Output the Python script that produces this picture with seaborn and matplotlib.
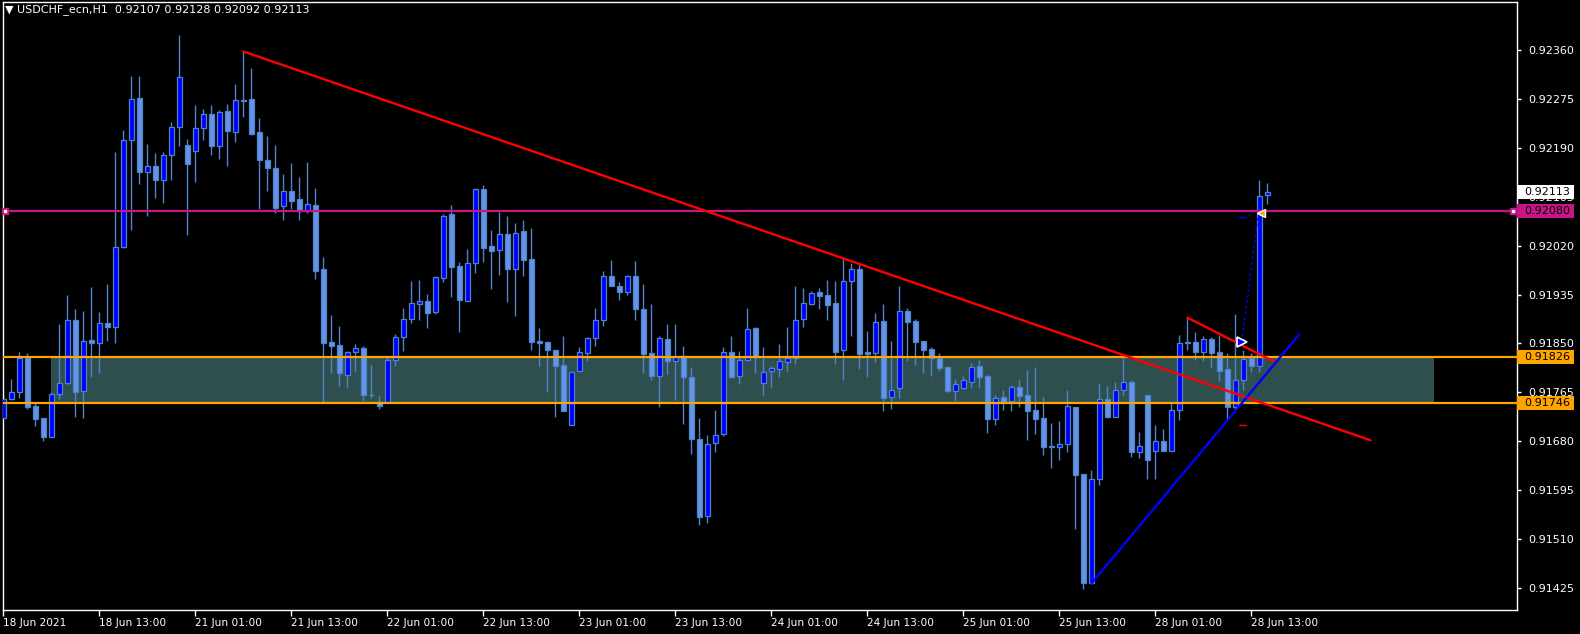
import numpy as np
import pandas as pd
import seaborn as sns
import matplotlib
matplotlib.use("Agg")
import matplotlib.pyplot as plt
import matplotlib.transforms as mtransforms
from matplotlib.patches import Rectangle

# USDCHF_ecn H1 bars, 18 Jun 01:00 .. 28 Jun 15:00
open_ = [0.91721, 0.91753, 0.91765, 0.91824, 0.91741, 0.91720, 0.91688, 0.91763, 0.91782, 0.91890,
         0.91767, 0.91856, 0.91850, 0.91885, 0.91878, 0.92018, 0.92204, 0.92276, 0.92147, 0.92158,
         0.92133, 0.92178, 0.92225, 0.92195, 0.92185, 0.92224, 0.92248, 0.92193, 0.92254, 0.92217,
         0.92273, 0.92274, 0.92217, 0.92169, 0.92154, 0.92088, 0.92114, 0.92100, 0.92080, 0.92090,
         0.91979, 0.91853, 0.91847, 0.91796, 0.91836, 0.91843, 0.91760, 0.91748, 0.91748, 0.91821,
         0.91862, 0.91893, 0.91919, 0.91923, 0.91905, 0.91963, 0.92075, 0.91985, 0.91924, 0.91989,
         0.92118, 0.92020, 0.92012, 0.92040, 0.91980, 0.92045, 0.91997, 0.91854, 0.91853, 0.91839,
         0.91813, 0.91708, 0.91802, 0.91834, 0.91859, 0.91890, 0.91968, 0.91950, 0.91939, 0.91967,
         0.91909, 0.91833, 0.91794, 0.91857, 0.91819, 0.91828, 0.91792, 0.91684, 0.91550, 0.91677,
         0.91692, 0.91835, 0.91794, 0.91822, 0.91877, 0.91781, 0.91802, 0.91805, 0.91817, 0.91824,
         0.91892, 0.91918, 0.91939, 0.91934, 0.91920, 0.91838, 0.91958, 0.91980, 0.91836, 0.91834,
         0.91889, 0.91757, 0.91772, 0.91907, 0.91889, 0.91854, 0.91840, 0.91824, 0.91809, 0.91768,
         0.91773, 0.91784, 0.91811, 0.91794, 0.91719, 0.91757, 0.91750, 0.91774, 0.91760, 0.91735,
         0.91721, 0.91671, 0.91670, 0.91675, 0.91740, 0.91623, 0.91435, 0.91614, 0.91753, 0.91723,
         0.91770, 0.91783, 0.91662, 0.91760, 0.91664, 0.91681, 0.91664, 0.91734, 0.91852, 0.91852,
         0.91836, 0.91858, 0.91835, 0.91805, 0.91740, 0.91786, 0.91824, 0.91811, 0.92107]
high = [0.91763, 0.91788, 0.91835, 0.91833, 0.91748, 0.91720, 0.91766, 0.91884, 0.91935, 0.91909,
        0.91906, 0.91948, 0.91904, 0.91953, 0.92182, 0.92221, 0.92314, 0.92314, 0.92196, 0.92180,
        0.92182, 0.92234, 0.92386, 0.92205, 0.92264, 0.92257, 0.92264, 0.92255, 0.92266, 0.92300,
        0.92357, 0.92329, 0.92242, 0.92210, 0.92195, 0.92144, 0.92163, 0.92139, 0.92165, 0.92120,
        0.92000, 0.91899, 0.91880, 0.91837, 0.91849, 0.91845, 0.91813, 0.91759, 0.91827, 0.91866,
        0.91912, 0.91958, 0.91960, 0.91936, 0.91967, 0.92074, 0.92090, 0.91992, 0.92014, 0.92120,
        0.92125, 0.92047, 0.92079, 0.92071, 0.92060, 0.92065, 0.92050, 0.91877, 0.91854, 0.91839,
        0.91863, 0.91802, 0.91844, 0.91861, 0.91912, 0.91976, 0.91995, 0.91957, 0.91969, 0.91993,
        0.91953, 0.91919, 0.91863, 0.91884, 0.91884, 0.91846, 0.91809, 0.91721, 0.91691, 0.91734,
        0.91844, 0.91863, 0.91837, 0.91912, 0.91879, 0.91844, 0.91811, 0.91849, 0.91879, 0.91950,
        0.91946, 0.91941, 0.91946, 0.91960, 0.91959, 0.91998, 0.91990, 0.91990, 0.91872, 0.91903,
        0.91919, 0.91854, 0.91950, 0.91911, 0.91893, 0.91854, 0.91844, 0.91834, 0.91811, 0.91788,
        0.91794, 0.91816, 0.91821, 0.91795, 0.91761, 0.91769, 0.91778, 0.91787, 0.91804, 0.91809,
        0.91757, 0.91712, 0.91715, 0.91769, 0.91740, 0.91623, 0.91631, 0.91779, 0.91776, 0.91783,
        0.91824, 0.91787, 0.91696, 0.91760, 0.91708, 0.91701, 0.91747, 0.91864, 0.91895, 0.91870,
        0.91863, 0.91862, 0.91864, 0.91833, 0.91902, 0.91838, 0.91833, 0.92133, 0.92128]
low = [0.91720, 0.91752, 0.91755, 0.91736, 0.91706, 0.91680, 0.91688, 0.91754, 0.91779, 0.91723,
       0.91721, 0.91791, 0.91798, 0.91855, 0.91850, 0.92016, 0.92047, 0.92127, 0.92072, 0.92103,
       0.92094, 0.92133, 0.92193, 0.92039, 0.92131, 0.92203, 0.92177, 0.92170, 0.92158, 0.92200,
       0.92244, 0.92212, 0.92083, 0.92115, 0.92077, 0.92064, 0.92083, 0.92064, 0.92077, 0.91962,
       0.91746, 0.91799, 0.91777, 0.91775, 0.91803, 0.91751, 0.91755, 0.91736, 0.91746, 0.91811,
       0.91837, 0.91886, 0.91891, 0.91877, 0.91902, 0.91957, 0.91930, 0.91870, 0.91924, 0.91972,
       0.91991, 0.91945, 0.91969, 0.91922, 0.91898, 0.91968, 0.91839, 0.91811, 0.91765, 0.91723,
       0.91732, 0.91708, 0.91802, 0.91820, 0.91846, 0.91881, 0.91949, 0.91926, 0.91935, 0.91891,
       0.91798, 0.91787, 0.91739, 0.91797, 0.91752, 0.91711, 0.91659, 0.91535, 0.91538, 0.91662,
       0.91690, 0.91790, 0.91780, 0.91820, 0.91799, 0.91761, 0.91775, 0.91791, 0.91802, 0.91815,
       0.91879, 0.91916, 0.91909, 0.91890, 0.91815, 0.91787, 0.91863, 0.91806, 0.91791, 0.91818,
       0.91733, 0.91737, 0.91756, 0.91820, 0.91812, 0.91798, 0.91794, 0.91803, 0.91766, 0.91751,
       0.91771, 0.91775, 0.91775, 0.91695, 0.91709, 0.91735, 0.91733, 0.91740, 0.91683, 0.91693,
       0.91657, 0.91633, 0.91648, 0.91662, 0.91528, 0.91423, 0.91432, 0.91605, 0.91721, 0.91723,
       0.91760, 0.91653, 0.91652, 0.91615, 0.91615, 0.91664, 0.91664, 0.91718, 0.91838, 0.91821,
       0.91820, 0.91810, 0.91785, 0.91719, 0.91737, 0.91769, 0.91801, 0.91801, 0.92092]
close = [0.91753, 0.91765, 0.91824, 0.91740, 0.91719, 0.91688, 0.91763, 0.91782, 0.91890, 0.91765,
         0.91855, 0.91850, 0.91885, 0.91878, 0.92018, 0.92203, 0.92274, 0.92147, 0.92158, 0.92133,
         0.92178, 0.92225, 0.92312, 0.92162, 0.92224, 0.92248, 0.92193, 0.92251, 0.92218, 0.92272,
         0.92271, 0.92214, 0.92168, 0.92155, 0.92086, 0.92114, 0.92098, 0.92080, 0.92092, 0.91976,
         0.91850, 0.91846, 0.91798, 0.91835, 0.91843, 0.91760, 0.91760, 0.91742, 0.91821, 0.91861,
         0.91892, 0.91921, 0.91923, 0.91903, 0.91965, 0.92072, 0.91983, 0.91926, 0.91989, 0.92118,
         0.92016, 0.92011, 0.92040, 0.91980, 0.92041, 0.91995, 0.91853, 0.91851, 0.91838, 0.91811,
         0.91732, 0.91800, 0.91835, 0.91859, 0.91890, 0.91968, 0.91950, 0.91940, 0.91967, 0.91909,
         0.91831, 0.91794, 0.91859, 0.91820, 0.91827, 0.91791, 0.91684, 0.91548, 0.91675, 0.91691,
         0.91836, 0.91792, 0.91822, 0.91876, 0.91826, 0.91800, 0.91807, 0.91819, 0.91824, 0.91890,
         0.91920, 0.91937, 0.91933, 0.91916, 0.91836, 0.91958, 0.91980, 0.91832, 0.91832, 0.91887,
         0.91756, 0.91770, 0.91907, 0.91888, 0.91853, 0.91839, 0.91825, 0.91808, 0.91768, 0.91780,
         0.91787, 0.91810, 0.91792, 0.91719, 0.91756, 0.91749, 0.91774, 0.91759, 0.91732, 0.91719,
         0.91671, 0.91670, 0.91675, 0.91741, 0.91622, 0.91435, 0.91615, 0.91753, 0.91722, 0.91770,
         0.91784, 0.91661, 0.91672, 0.91647, 0.91681, 0.91664, 0.91734, 0.91850, 0.91851, 0.91836,
         0.91858, 0.91834, 0.91803, 0.91740, 0.91786, 0.91823, 0.91811, 0.92106, 0.92113]

date_ticks = [0, 12, 24, 36, 48, 60, 72, 84, 96, 108, 120, 132, 144, 156]
date_labels = ['18 Jun 2021', '18 Jun 13:00', '21 Jun 01:00', '21 Jun 13:00', '22 Jun 01:00',
               '22 Jun 13:00', '23 Jun 01:00', '23 Jun 13:00', '24 Jun 01:00', '24 Jun 13:00',
               '25 Jun 01:00', '25 Jun 13:00', '28 Jun 01:00', '28 Jun 13:00']
price_ticks = [0.92360, 0.92275, 0.92190, 0.92105, 0.92020, 0.91935, 0.91850,
               0.91765, 0.91680, 0.91595, 0.91510, 0.91425]

# chart objects
magenta_level = 0.92080
zone_top, zone_bottom = 0.91826, 0.91746
zone_start, zone_end = 5.95, 178.8
red_trend = ([30.0, 170.9], [0.92357, 0.91682])
red_short = ([148.0, 159.05], [0.91895, 0.91817])
blue_trend = ([136.05, 162.0], [0.91434, 0.91866])
trade_line = ([154.8, 156.9], [0.91853, 0.92077])
last_price = 0.92113

df = pd.DataFrame({'open': open_, 'high': high, 'low': low, 'close': close})
df['bar'] = np.arange(len(df))
df['bull'] = df['close'] >= df['open']

sns.set_theme(style="dark", rc={'axes.facecolor': 'black', 'figure.facecolor': 'black'})
plt.rcParams['font.family'] = ['DejaVu Sans']

wick_col = '#4d84c9'
bull_col = '#0000ff'
bear_col = '#6495ed'

fig = plt.figure(figsize=(15.8, 6.34), dpi=100)
ax = fig.add_axes([2.7 / 1580, 24.5 / 634, 1514.3 / 1580, 607.5 / 634])
ax.set_facecolor('black')

# support zone
ax.fill_between([zone_start, zone_end], zone_bottom, zone_top, color='#2f4f4f', lw=0, zorder=1)

# candles
ax.vlines(df['bar'], df['low'], df['high'], color=wick_col, lw=1.0, zorder=2)
body_lo = np.minimum(df['open'], df['close'])
body_h = np.maximum(np.abs(df['close'] - df['open']), 0.000012)
ax.bar(df['bar'], body_h, bottom=body_lo, width=0.62,
       color=np.where(df['bull'], bull_col, bear_col), edgecolor=wick_col, linewidth=0.9, zorder=3)

# horizontal levels
ax.axhline(magenta_level, color='#c71585', lw=1.6, zorder=4)
ax.axhline(zone_top, color='#ffa500', lw=1.6, zorder=4)
ax.axhline(zone_bottom, color='#ffa500', lw=1.6, zorder=4)
for xm in [0.2, 188.7]:
    ax.plot(xm, magenta_level, marker='s', ms=5, color='#c71585', zorder=5, clip_on=False)
    ax.plot(xm, magenta_level, marker='s', ms=1.6, color='white', zorder=6, clip_on=False)

# trend lines
ax.plot(*red_trend, color='#ff0000', lw=1.7, zorder=5)
ax.plot(*red_short, color='#ff0000', lw=1.7, zorder=5)
ax.plot(*blue_trend, color='#0000ff', lw=1.7, zorder=5)

# trade markers
ax.plot(*trade_line, color='#0000ff', lw=1.0, ls=(0, (2, 2)), zorder=6)
ax.plot([154.5, 155.3], [0.92069, 0.92069], color='#0000ff', lw=1.0, zorder=6)
ax.plot([154.5, 155.3], [0.91708, 0.91708], color='#ff0000', lw=1.0, zorder=6)
ax.plot(trade_line[0][0], trade_line[1][0], marker='>', ms=7, mfc='#0000ff', mec='white', mew=1.2, zorder=7)
ax.plot(157.2, 0.92077, marker='<', ms=6, mfc='#ffa500', mec='white', mew=1.0, zorder=7)

ax.set_xlim(-0.075, 189.21)
ax.set_ylim(0.913882, 0.924428)

# axes styling
for s in ax.spines.values():
    s.set_color('white')
    s.set_linewidth(1.0)
ax.yaxis.tick_right()
ax.set_yticks(price_ticks)
ax.set_yticklabels([f'{p:.5f}' for p in price_ticks])
ax.set_xticks(date_ticks)
ax.set_xticklabels(date_labels)
for lab in ax.get_xticklabels():
    lab.set_horizontalalignment('left')
ax.tick_params(axis='y', colors='white', length=3, width=1, pad=5, labelsize=8, right=True, left=False)
ax.tick_params(axis='x', colors='white', length=4, width=1, pad=2, labelsize=7.6, bottom=True)
ax.grid(False)

# price boxes on the right scale
trans = mtransforms.blended_transform_factory(ax.transAxes, ax.transData)
half_h = 7.0 / 57600
boxes = [(last_price, 'white'), (magenta_level, '#c71585'), (zone_top, '#ffa500'), (zone_bottom, '#ffa500')]
for price, col in boxes:
    ax.add_patch(Rectangle((1.0003, price - half_h), 56.5 / 1514.3, 2 * half_h, transform=trans,
                           facecolor=col, edgecolor='none', zorder=9, clip_on=False))
    ax.text(1.0 + 7.5 / 1514.3, price, f'{price:.5f}', transform=trans, ha='left', va='center',
            fontsize=8, color='black', zorder=10, clip_on=False)

fig.text(5 / 1580, 1 - 10 / 634, '\u25bc USDCHF_ecn,H1  0.92107 0.92128 0.92092 0.92113',
         color='white', fontsize=8, ha='left', va='center')

fig.savefig('out.png', dpi=100, facecolor='black')
